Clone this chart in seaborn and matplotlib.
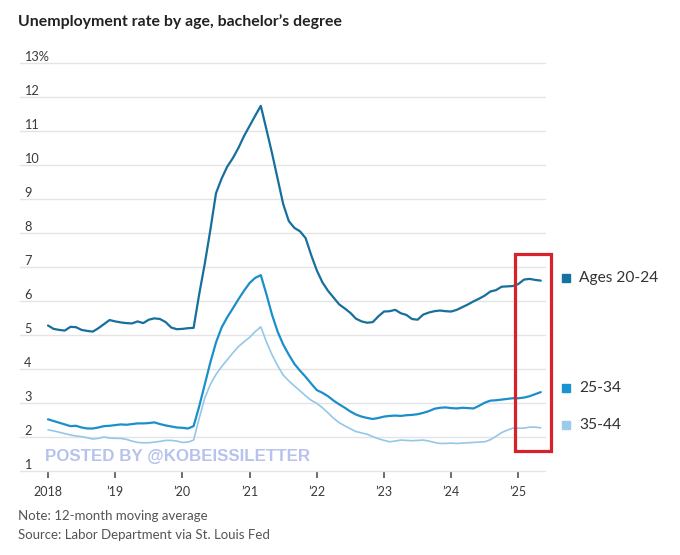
import numpy as np
import pandas as pd
import matplotlib
matplotlib.use("Agg")
import matplotlib.pyplot as plt
from matplotlib.patches import Rectangle
import seaborn as sns

# ---------------- data (monthly, Jan 2018 - May 2025) ----------------
start_year = 2018
series_names = ["Ages 20-24", "25-34", "35-44"]

ages_20_24 = [
    5.28, 5.18, 5.15, 5.13, 5.24, 5.23, 5.15, 5.12, 5.10, 5.20, 5.32, 5.44,
    5.40, 5.37, 5.35, 5.34, 5.40, 5.35, 5.45, 5.49, 5.47, 5.38, 5.22, 5.17,
    5.18, 5.20, 5.21, 6.20, 7.10, 8.10, 9.17, 9.60, 9.95, 10.20, 10.50, 10.85,
    11.15, 11.45, 11.74, 11.05, 10.35, 9.60, 8.85, 8.35, 8.15, 8.05, 7.85, 7.35,
    6.90, 6.55, 6.30, 6.10, 5.90, 5.78, 5.65, 5.48, 5.40, 5.36, 5.38, 5.55,
    5.69, 5.70, 5.74, 5.64, 5.59, 5.47, 5.45, 5.60, 5.66, 5.70, 5.72, 5.70,
    5.69, 5.74, 5.82, 5.90, 5.99, 6.07, 6.16, 6.28, 6.32, 6.42, 6.43, 6.44,
    6.50, 6.63, 6.65, 6.62, 6.60,
]
ages_25_34 = [
    2.52, 2.47, 2.42, 2.37, 2.32, 2.33, 2.28, 2.25, 2.25, 2.28, 2.32, 2.33,
    2.35, 2.37, 2.36, 2.38, 2.40, 2.40, 2.41, 2.43, 2.38, 2.34, 2.31, 2.28,
    2.27, 2.25, 2.32, 2.90, 3.55, 4.20, 4.78, 5.22, 5.52, 5.78, 6.05, 6.30,
    6.53, 6.68, 6.76, 6.20, 5.60, 5.10, 4.72, 4.42, 4.15, 3.95, 3.77, 3.57,
    3.38, 3.30, 3.20, 3.07, 2.96, 2.86, 2.75, 2.66, 2.60, 2.56, 2.53, 2.56,
    2.60, 2.62, 2.63, 2.62, 2.64, 2.65, 2.67, 2.71, 2.76, 2.83, 2.86, 2.87,
    2.85, 2.84, 2.86, 2.85, 2.84, 2.92, 3.01, 3.07, 3.08, 3.10, 3.12, 3.14,
    3.14, 3.16, 3.20, 3.26, 3.32,
]
ages_35_44 = [
    2.21, 2.18, 2.14, 2.10, 2.06, 2.03, 2.01, 1.98, 1.94, 1.96, 2.00, 1.97,
    1.96, 1.96, 1.93, 1.88, 1.84, 1.83, 1.83, 1.85, 1.87, 1.90, 1.90, 1.88,
    1.84, 1.85, 1.91, 2.55, 3.15, 3.55, 3.84, 4.07, 4.27, 4.47, 4.66, 4.80,
    4.93, 5.10, 5.24, 4.80, 4.42, 4.10, 3.82, 3.65, 3.50, 3.36, 3.21, 3.08,
    2.99, 2.86, 2.71, 2.55, 2.42, 2.33, 2.24, 2.16, 2.12, 2.08, 2.01, 1.95,
    1.90, 1.86, 1.88, 1.91, 1.90, 1.89, 1.90, 1.91, 1.88, 1.84, 1.81, 1.81,
    1.82, 1.81, 1.82, 1.83, 1.84, 1.85, 1.86, 1.92, 2.02, 2.13, 2.20, 2.26,
    2.26, 2.26, 2.29, 2.29, 2.27,
]

y_ticks = list(range(1, 14))
y_tick_labels = [str(v) for v in y_ticks[:-1]] + ["13%"]
x_ticks = list(range(2018, 2026))
x_tick_labels = ["2018", "\u201919", "\u201920", "\u201921", "\u201922",
                 "\u201923", "\u201924", "\u201925"]

title = "Unemployment rate by age, bachelor\u2019s degree"
note = "Note: 12-month moving average"
source = "Source: Labor Department via St. Louis Fed"
watermark = "POSTED BY @KOBEISSILETTER"

colors = {"Ages 20-24": "#166f9c", "25-34": "#1a8fcb", "35-44": "#94c7e8"}
legend_colors = {"Ages 20-24": "#16729f", "25-34": "#1993d1", "35-44": "#9ccbeb"}
widths = {"Ages 20-24": 1.6, "25-34": 1.6, "35-44": 1.2}

# ---------------- build long table ----------------
n = len(ages_20_24)
t = start_year + np.arange(n) / 12.0
df = pd.concat([
    pd.DataFrame({"t": t, "rate": ages_20_24, "series": "Ages 20-24"}),
    pd.DataFrame({"t": t, "rate": ages_25_34, "series": "25-34"}),
    pd.DataFrame({"t": t, "rate": ages_35_44, "series": "35-44"}),
], ignore_index=True)

sns.set_theme(style="white")
plt.rcParams["font.family"] = ["Lato", "DejaVu Sans"]

W, H = 680, 555
fig = plt.figure(figsize=(W / 100, H / 100), dpi=100)
ax_left, ax_right, ax_top, ax_bottom = 20, 545, 63, 471
ax = fig.add_axes([ax_left / W, 1 - ax_bottom / H,
                   (ax_right - ax_left) / W, (ax_bottom - ax_top) / H])

for name in series_names:
    sub = df[df["series"] == name]
    sns.lineplot(data=sub, x="t", y="rate", ax=ax, color=colors[name],
                 linewidth=widths[name], legend=False, zorder=3)

x_lo = 2018 - 28 / 67.2
x_hi = 2018 + 497 / 67.2
ax.set_xlim(x_lo, x_hi)
ax.set_ylim(1, 13)
ax.set_xlabel("")
ax.set_ylabel("")
for s in ax.spines.values():
    s.set_visible(False)

# grid
ax.set_yticks(y_ticks)
ax.set_yticklabels(y_tick_labels)
for v in y_ticks:
    ax.axhline(v, color="#e4e4e4", lw=1.0, zorder=1, clip_on=False)
ax.tick_params(axis="y", length=0, pad=-3, labelsize=9.2, labelcolor="#3a3a3a")
for lab in ax.get_yticklabels():
    lab.set_horizontalalignment("left")
    lab.set_verticalalignment("bottom")

ax.set_xticks(x_ticks)
ax.set_xticklabels(x_tick_labels)
ax.tick_params(axis="x", bottom=True, length=5, width=1.1, color="#444444",
               pad=6, labelsize=9, labelcolor="#3a3a3a", direction="out")

# red highlight box
rx0 = 2018 + (515 - 48) / 67.2
rx1 = 2018 + (551 - 48) / 67.2
ry0 = 13 - (451 - 63) / 34
ry1 = 13 - (254 - 63) / 34
ax.add_patch(Rectangle((rx0, ry0), rx1 - rx0, ry1 - ry0, fill=False,
                       edgecolor="#d8222b", lw=2.3, clip_on=False, zorder=5))

# legend labels at right
leg_y = {"Ages 20-24": 6.68, "25-34": 3.44, "35-44": 2.35}
sq_x = 2018 + (566 - 48) / 67.2
tx_x = 2018 + (579 - 48) / 67.2
for name in series_names:
    ax.plot([sq_x], [leg_y[name]], marker="s", markersize=6.3,
            color=legend_colors[name], clip_on=False, zorder=5)
    ax.text(tx_x, leg_y[name], name, fontsize=11.2, color="#333333",
            va="center", ha="left", clip_on=False)

# watermark
ax.text(2018 - 3 / 67.2, 13 - (456 - 63) / 34, watermark, fontsize=12.2,
        fontweight="bold", color="#b7c2ee", family=["Liberation Sans", "DejaVu Sans"],
        va="center", ha="left", zorder=6)

# titles and notes
fig.text(18 / W, 1 - 22 / H, title, fontsize=11.4, fontweight="bold",
         color="#222222", va="center", ha="left")
fig.text(18 / W, 1 - 516 / H, note, fontsize=9.5, color="#555555",
         va="center", ha="left")
fig.text(18 / W, 1 - 535 / H, source, fontsize=9.5, color="#555555",
         va="center", ha="left")

fig.savefig("out.png", dpi=100, facecolor="white")
